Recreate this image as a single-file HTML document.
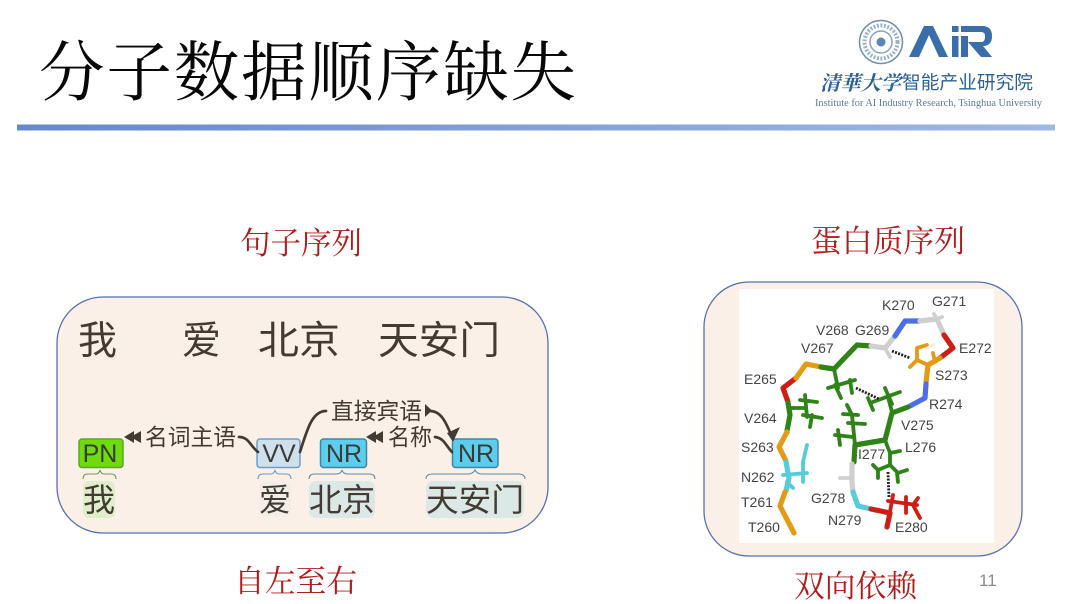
<!DOCTYPE html>
<html lang="zh"><head><meta charset="utf-8"><style>
html,body{margin:0;padding:0;background:#fff;width:1080px;height:604px;overflow:hidden}
svg{display:block}
.cjk{font-family:"Liberation Sans","Noto Sans CJK SC",sans-serif}
.ser{font-family:"Liberation Serif","Noto Serif CJK SC",serif}
.red{fill:#b01c1c;font-size:31px}
.dk{fill:#423b33}
.p{font-family:"Liberation Sans",sans-serif;font-size:14px;fill:#444}
.tag{font-family:"Liberation Sans",sans-serif;font-size:25px;fill:#3b3a36;text-anchor:middle}
.bb{fill:none;stroke-width:5.2;stroke-linejoin:round;stroke-linecap:round}
.sc{fill:none;stroke-width:3.8;stroke-linecap:round;stroke-linejoin:round}
.g{stroke:#2f8418}.o{stroke:#e49a14}.r{stroke:#cf1d16}.b{stroke:#4a6fe8}.w{stroke:#cfcfcf}.c{stroke:#55cdd8}
.conn{fill:none;stroke:#423b33;stroke-width:2.7;stroke-linecap:round}
</style></head><body>
<svg width="1080" height="604" viewBox="0 0 1080 604" xmlns="http://www.w3.org/2000/svg">
<defs><linearGradient id="bar" x1="0" x2="1" y1="0" y2="0"><stop offset="0" stop-color="#6888cc"/><stop offset="1" stop-color="#a0b8e2"/></linearGradient></defs>
<rect width="1080" height="604" fill="#fff"/>
<text class="ser" x="39" y="95" font-size="65.500" textLength="537" lengthAdjust="spacing" fill="#080808">分子数据顺序缺失</text>
<rect x="17" y="124.500" width="1038" height="6" fill="url(#bar)"/>

<!-- logo -->
<g>
<circle cx="881" cy="42" r="21.500" fill="#fff" stroke="#6f8db0" stroke-width="1.500"/>
<circle cx="881" cy="42" r="16.500" fill="none" stroke="#9db2ca" stroke-width="4" stroke-dasharray="2 1.500"/>
<circle cx="881" cy="42" r="11" fill="none" stroke="#8aa3bf" stroke-width="1.500"/>
<circle cx="881" cy="42" r="4.500" fill="#5f86ae"/>
<path d="M909 57 L924 26 H933 L948 57 H939 L929 35 L919 57Z" fill="#3a6ea8"/>
<rect x="952" y="26" width="6.500" height="6" fill="#3a6ea8"/><rect x="952" y="36" width="6.500" height="21" fill="#3a6ea8"/>
<path d="M961 26 H982 Q992 26 992 36 Q992 46 983 46 L992 57 H981 L968 42 H982 Q985 42 985 36 Q985 32 981 32 H961Z M961 36 H968 V57 H961Z" fill="#3a6ea8"/>
<text x="820" y="90" font-family="'Noto Serif CJK SC',serif" font-size="20" font-weight="700" font-style="italic" fill="#2b6298" textLength="81" lengthAdjust="spacingAndGlyphs">清華大学</text>
<text class="cjk" x="902" y="89" font-size="18.500" fill="#2d6096" textLength="131" lengthAdjust="spacingAndGlyphs">智能产业研究院</text>
<text x="815" y="106" font-family="'Liberation Serif',serif" font-size="10" fill="#5d7a9a" textLength="227" lengthAdjust="spacingAndGlyphs">Institute for AI Industry Research,  Tsinghua University</text>
</g>

<!-- headings -->
<text class="ser red" x="240" y="254" textLength="122" lengthAdjust="spacingAndGlyphs">句子序列</text>
<text class="ser red" x="811" y="252" textLength="154" lengthAdjust="spacingAndGlyphs">蛋白质序列</text>
<text class="ser red" x="234" y="592" textLength="123" lengthAdjust="spacingAndGlyphs">自左至右</text>
<text class="ser red" x="794" y="597" textLength="123" lengthAdjust="spacingAndGlyphs">双向依赖</text>
<text x="979" y="586" font-family="'Liberation Sans',sans-serif" font-size="17" fill="#8c8c8c">11</text>

<!-- left panel -->
<rect x="57" y="297" width="491" height="236" rx="46" fill="#fbf0e8" stroke="#5472ac" stroke-width="1.300"/>
<g class="cjk dk" font-size="39">
<text class="dk" x="78" y="354">我</text>
<text class="dk" x="182" y="354">爱</text>
<text class="dk" x="258" y="354" textLength="82" lengthAdjust="spacingAndGlyphs">北京</text>
<text class="dk" x="378" y="354" textLength="122" lengthAdjust="spacingAndGlyphs">天安门</text>
</g>
<rect x="83" y="481" width="32" height="37" rx="6" fill="#e0eecb"/>
<rect x="260" y="482" width="31" height="35" rx="6" fill="#f3ede8"/>
<rect x="309" y="481" width="66" height="37" rx="7" fill="#dce8e6"/>
<rect x="426" y="481" width="98" height="37" rx="7" fill="#dce8e6"/>
<rect x="79" y="439" width="44" height="28.500" rx="3" fill="#6edc08" stroke="#5ea332" stroke-width="1.500"/>
<rect x="257" y="439" width="43" height="28.500" rx="3" fill="#cfdfec" stroke="#6a9fcc" stroke-width="1.500"/>
<rect x="320.500" y="439" width="46" height="28.500" rx="3" fill="#5ccdec" stroke="#3c87a4" stroke-width="1.500"/>
<rect x="452.500" y="439" width="45.500" height="28.500" rx="3" fill="#5ccdec" stroke="#3c87a4" stroke-width="1.500"/>
<text class="tag" x="100" y="462">PN</text><text class="tag" x="279" y="462">VV</text><text class="tag" x="344" y="462">NR</text><text class="tag" x="476" y="462">NR</text>
<g fill="none" stroke-width="1.100">
<path d="M83 479 Q83 474 88 474 H96 Q99 474 100 470 Q101 474 104 474 H111 Q116 474 116 479" stroke="#6e9c58"/>
<path d="M258 479 Q258 474 263 474 H271 Q274 474 275 470 Q276 474 279 474 H286 Q291 474 291 479" stroke="#6c9cc8"/>
<path d="M309 479 Q309 474 315 474 H336 Q341 474 342 470 Q343 474 348 474 H369 Q375 474 375 479" stroke="#5a8ea2"/>
<path d="M426 479 Q426 474 433 474 H468 Q473 474 475 470 Q477 474 482 474 H518 Q525 474 525 479" stroke="#5a8ea2"/>
</g>
<g class="cjk" font-size="32">
<text class="dk" x="83" y="511" textLength="32" lengthAdjust="spacingAndGlyphs">我</text>
<text class="dk" x="259" y="511" textLength="32" lengthAdjust="spacingAndGlyphs">爱</text>
<text class="dk" x="309" y="511" textLength="66" lengthAdjust="spacingAndGlyphs">北京</text>
<text class="dk" x="426" y="511" textLength="98" lengthAdjust="spacingAndGlyphs">天安门</text>
</g>
<g class="cjk" font-size="23">
<text class="dk" x="145" y="445" textLength="91" lengthAdjust="spacingAndGlyphs">名词主语</text>
<text class="dk" x="331" y="419" textLength="91" lengthAdjust="spacingAndGlyphs">直接宾语</text>
<text class="dk" x="388" y="445" textLength="44" lengthAdjust="spacingAndGlyphs">名称</text>
</g>
<path class="conn" d="M239 437 C249 437 250 446 258 452"/>
<path class="conn" d="M300 452 C307 430 312 411 326 411"/>
<path class="conn" d="M430 411 C442 411 447 425 452 437"/>
<path class="conn" d="M435 437 C444 438 446 446 452 452"/>
<path d="M124 437 L134 431 V435 L141 431 V443 L134 439 V443Z" fill="#423b33"/>
<path d="M366 437 L376 431 V435 L383 431 V443 L376 439 V443Z" fill="#423b33"/>
<path d="M425 404 L432 410.500 L425 417Z" fill="#423b33"/>
<path d="M447 433 L460 427 L453 442Z" fill="#423b33"/>

<!-- right panel -->
<rect x="704" y="282" width="318" height="274" rx="45" fill="#fbf0e8" stroke="#5472ac" stroke-width="1.300"/>
<rect x="739" y="289" width="255" height="254" fill="#fff"/>
<!-- side chains -->
<g class="sc g">
<path d="M834 369 L838 388 M828 388 L855 380 M850 380 L852 393 M835 385 L841 398"/>
<path d="M800 400 L817 402 M805 395 L807 417 M790 408 L806 408 M803 415 L822 418 M812 415 L810 427"/>
<path d="M855 445 L852 415 M843 414 L858 415 M847 405 L852 415 M848 423 L865 424 M835 435 L853 437 M838 430 L840 445"/>
<path d="M892 412 L888 397 M870 403 L900 392 M868 398 L873 410 M885 388 L892 404"/>
<path d="M885 440 L890 453 L890 465 M890 453 L900 451 M890 465 L878 470 M873 465 L878 470 L878 478 M890 465 L898 473 M898 473 L907 470 M897 473 L898 482"/>
</g>
<g class="sc o"><path d="M927 345 L917 348 L917 360 L910 367 M917 360 L928 365 M933 353 L935 362"/></g>
<g class="sc r"><path d="M888 501 L917 505 M893 495 L890 512 M906 497 L906 513 M918 498 L913 505 L920 518"/></g>
<g class="sc c"><path d="M783 475 L807 473 M803 462 L803 482 M807 445 L803 462 M787 482 L793 488"/></g>
<g class="sc w"><path d="M840 478 H852 M885 348 L890 357 M937 319 L942 317 M937 319 L934 314"/></g>
<!-- hbonds -->
<g fill="none" stroke="#222" stroke-width="2.800" stroke-dasharray="2 1.300">
<path d="M892 351 L910 358"/><path d="M856 388 L879 399"/><path d="M888 472 L889 498"/>
</g>
<path d="M925 349 L935 344" stroke="#f2efd8" stroke-width="2.500"/>
<!-- backbone -->
<g class="bb">
<path class="r" d="M796 378 L783 388 L788 402"/>
<path class="o" d="M796 378 L806 364 L821 367"/>
<path class="g" d="M821 367 L834 369 L857 345 L871 346"/>
<path class="w" d="M871 346 L885 348 L895 336"/>
<path class="b" d="M895 336 L905 321 L920 321"/>
<path class="w" d="M920 321 L937 319 L944 335"/>
<path class="r" d="M944 335 L953 348 L940 358"/>
<path class="o" d="M940 358 L928 365 L926 383"/>
<path class="b" d="M926 384 L925 398 L910 406"/>
<path class="g" d="M908 407 L892 413 L885 440 L855 445 L854 462"/>
<path class="w" d="M852 464 L852 482 L853 491"/>
<path class="c" d="M853 492 L858 506 L871 509"/>
<path class="r" d="M871 509 L890 513 L887 527"/>
<path class="g" d="M788 403 L790 415 L787 431"/>
<path class="o" d="M787 432 L779 447 L786 461"/>
<path class="c" d="M786 462 L789 478 L786 491"/>
<path class="o" d="M785 492 L780 506 L794 533"/>
</g>
<g class="p">
<text x="882" y="310">K270</text><text x="932" y="306">G271</text>
<text x="816" y="335">V268</text><text x="855" y="335">G269</text>
<text x="801" y="353">V267</text><text x="959" y="353">E272</text>
<text x="744" y="384">E265</text><text x="935" y="380">S273</text>
<text x="929" y="409">R274</text><text x="744" y="423">V264</text>
<text x="901" y="430">V275</text><text x="905" y="452">L276</text>
<text x="741" y="452">S263</text><text x="858" y="459">I277</text>
<text x="741" y="482">N262</text><text x="741" y="507">T261</text>
<text x="811" y="503">G278</text><text x="828" y="525">N279</text>
<text x="748" y="532">T260</text><text x="895" y="532">E280</text>
</g>
</svg>
</body></html>
